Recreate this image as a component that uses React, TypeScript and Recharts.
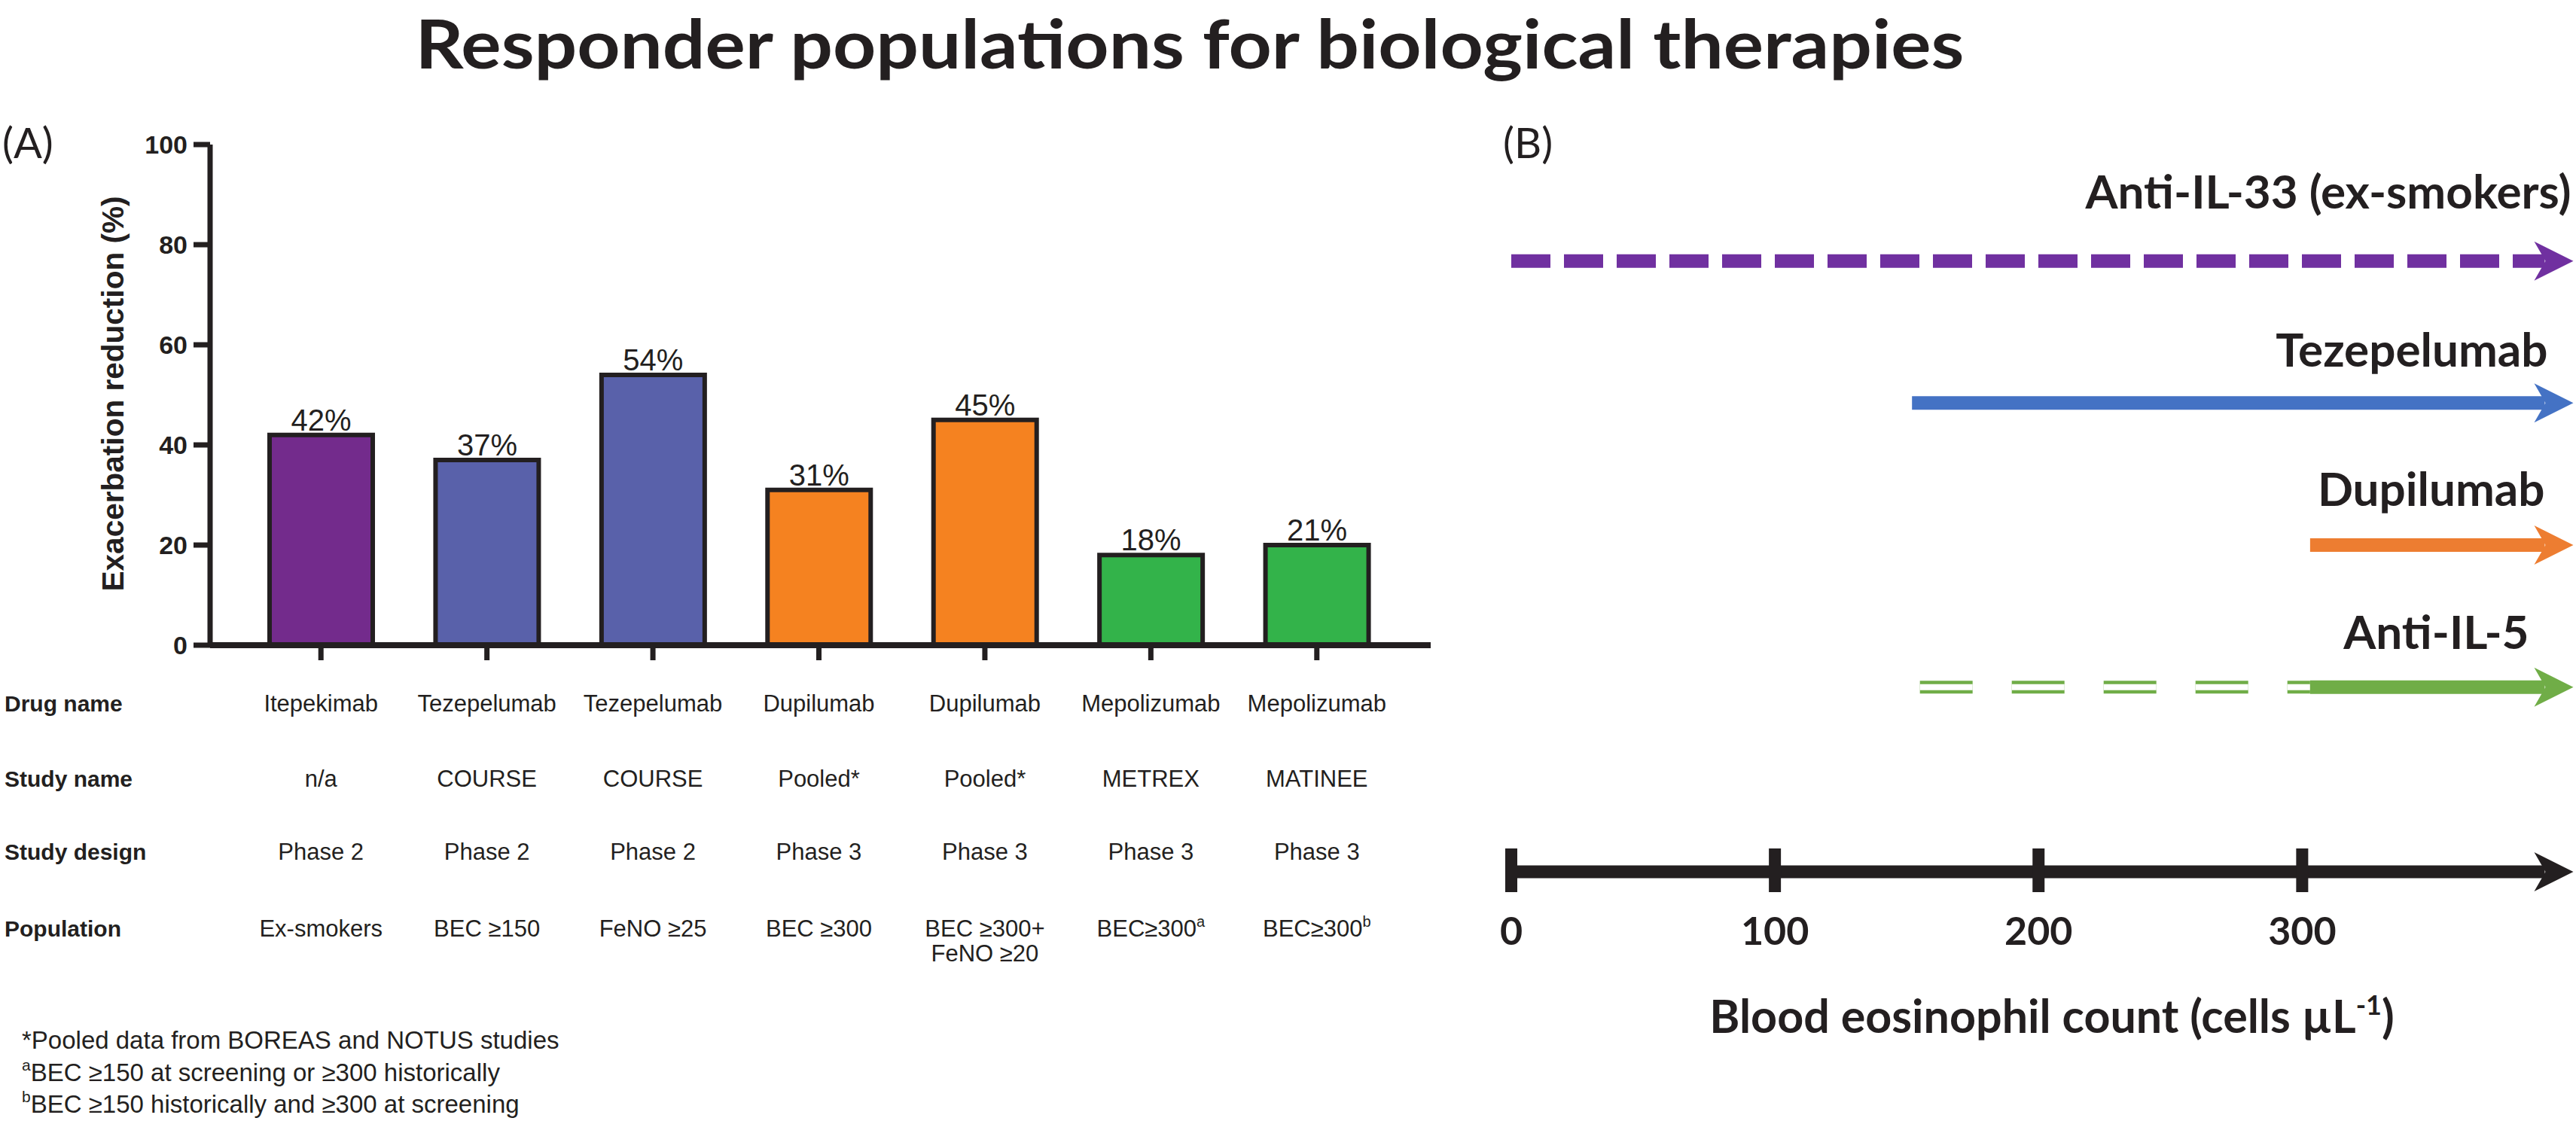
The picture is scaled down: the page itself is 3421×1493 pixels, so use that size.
import React from 'react'
import { BarChart, Bar, XAxis, YAxis, Cell, LabelList, ComposedChart, Line } from 'recharts'

// ---- Panel A data ----
const drugNames = ['Itepekimab', 'Tezepelumab', 'Tezepelumab', 'Dupilumab', 'Dupilumab', 'Mepolizumab', 'Mepolizumab']
const studyNames = ['n/a', 'COURSE', 'COURSE', 'Pooled*', 'Pooled*', 'METREX', 'MATINEE']
const studyDesigns = ['Phase 2', 'Phase 2', 'Phase 2', 'Phase 3', 'Phase 3', 'Phase 3', 'Phase 3']
const populations = ['Ex-smokers', 'BEC ≥150', 'FeNO ≥25', 'BEC ≥300', 'BEC ≥300+\nFeNO ≥20', 'BEC≥300', 'BEC≥300']
const populationSup = ['', '', '', '', '', 'a', 'b']
const reductions = [42, 37, 54, 31, 45, 18, 20]
const reductionLabels = ['42%', '37%', '54%', '31%', '45%', '18%', '21%']
const yTicks = [0, 20, 40, 60, 80, 100]
const rowHeaders = ['Drug name', 'Study name', 'Study design', 'Population']

// ---- Panel B data ----
const arrowNames = ['Anti-IL-33 (ex-smokers)', 'Tezepelumab', 'Dupilumab', 'Anti-IL-5']
const arrowRows = [1, 2, 3, 4]
const arrowStarts = [0, 152, 303, 303]
const arrowDashedFrom = [null, null, null, 155] // double-dashed lead-in (Anti-IL-5)
const SHAFT_END = 392
const AXIS_ROW = 5.3
const axisTicks = [0, 100, 200, 300]

const BAR_COLORS = ['#732b8c', '#5961aa', '#5961aa', '#f58220', '#f58220', '#33b34a', '#33b34a']
const ARROW_STYLE = [
  { color: '#7030a0', dash: '52 18', lift: 70, dx: -3 },
  { color: '#4472c4', dash: undefined, lift: 48, dx: -34 },
  { color: '#ed7d31', dash: undefined, lift: 52, dx: -38 },
  { color: '#70ad47', dash: undefined, lift: 51, dx: -59 },
]
const INK = '#231f20'
const ARIAL = '"Liberation Sans", Arial, sans-serif'
const CALIBRI = 'Lato, "Open Sans", sans-serif'

const barData = drugNames.map((d, i) => ({ col: i, drug: d, value: reductions[i], label: reductionLabels[i] }))

function TableTick({ x, y, payload }: any) {
  const i = Number(payload.value)
  const lines = populations[i].split('\n')
  const t = { fontFamily: ARIAL, fontSize: 31, fill: INK }
  return (
    <g>
      <text x={x} y={y + 68} textAnchor="middle" style={t}>{drugNames[i]}</text>
      <text x={x} y={y + 168} textAnchor="middle" style={t}>{studyNames[i]}</text>
      <text x={x} y={y + 265} textAnchor="middle" style={t}>{studyDesigns[i]}</text>
      {lines.map((ln, k) => (
        <text key={k} x={x} y={y + 367 + k * 33} textAnchor="middle" style={t}>
          {ln}
          {populationSup[i] && k === lines.length - 1 ? (
            <tspan dy={-13} fontSize={20}>{populationSup[i]}</tspan>
          ) : null}
        </text>
      ))}
    </g>
  )
}

function AxisTick({ x, y, payload }: any) {
  return (
    <g>
      <rect x={x - 8} y={y - 31} width={16} height={58} fill={INK} />
      <text x={x} y={y + 97} textAnchor="middle"
        style={{ fontFamily: CALIBRI, fontWeight: 700, fontSize: 52, fill: INK }}>
        {payload.value}
      </text>
    </g>
  )
}

function makeHead(color: string, label?: string, lift = 50, dx = 0) {
  return (props: any) => {
    const { cx, cy, index } = props
    if (index !== 1 || cx == null) return <g key={`n${index}`} />
    const tip = cx + 38
    return (
      <g key={`h${index}`}>
        <polygon points={`${tip},${cy} ${cx - 14},${cy - 26} ${cx + 1},${cy} ${cx - 14},${cy + 26}`} fill={color} />
        {label ? (
          <text x={tip + dx} y={cy - lift} textAnchor="end"
            style={{ fontFamily: CALIBRI, fontWeight: 700, fontSize: 62, fill: INK }}>
            {label}
          </text>
        ) : null}
      </g>
    )
  }
}

export default function App() {
  return (
    <div style={{ position: 'absolute', left: 0, top: 0, width: 3421, height: 1493, background: '#fff', overflow: 'hidden', fontFamily: ARIAL }}>
      {/* Panel A */}
      <div style={{ position: 'absolute', left: 0, top: 0 }}>
        <BarChart width={1960} height={1493} data={barData} margin={{ top: 192, right: 60, bottom: 606, left: 179 }}>
          <XAxis dataKey="col" type="category" height={30} padding={{ left: 37, right: 41 }}
            axisLine={{ stroke: INK, strokeWidth: 8 }} tickLine={{ stroke: INK, strokeWidth: 7 }}
            tickSize={20} tickMargin={0} interval={0} tick={<TableTick />} />
          <YAxis type="number" domain={[0, 100]} ticks={yTicks} width={100}
            axisLine={{ stroke: INK, strokeWidth: 7 }} tickLine={{ stroke: INK, strokeWidth: 7 }}
            tickSize={22} tickMargin={8}
            tick={{ fontFamily: ARIAL, fontSize: 34, fontWeight: 700, fill: INK }} />
          <Bar dataKey="value" barSize={137} stroke={INK} strokeWidth={6} isAnimationActive={false}>
            {barData.map((_, i) => <Cell key={i} fill={BAR_COLORS[i]} />)}
            <LabelList dataKey="label" position="top" offset={6}
              style={{ fontFamily: ARIAL, fontSize: 40, fill: INK }} />
          </Bar>
        </BarChart>
      </div>

      {/* Panel B */}
      <div style={{ position: 'absolute', left: 1960, top: 0 }}>
        <ComposedChart width={1461} height={1493} margin={{ top: 158, right: 3, bottom: 334, left: 47 }}>
          <XAxis type="number" dataKey="x" domain={[0, 403]} ticks={axisTicks} interval={0}
            axisLine={false} tickLine={false} tickSize={0} tickMargin={0} height={1}
            tick={<AxisTick />} />
          <YAxis type="number" domain={[0, AXIS_ROW]} reversed hide />

          {arrowDashedFrom.map((from, i) => from == null ? null : (
            <Line key={`dg${i}`} data={[{ x: from, y: arrowRows[i] }, { x: arrowStarts[i], y: arrowRows[i] }]}
              dataKey="y" type="linear" stroke={ARROW_STYLE[i].color} strokeWidth={17}
              strokeDasharray="70 52" dot={false} activeDot={false} isAnimationActive={false} />
          ))}
          {arrowDashedFrom.map((from, i) => from == null ? null : (
            <Line key={`dw${i}`} data={[{ x: from, y: arrowRows[i] }, { x: arrowStarts[i], y: arrowRows[i] }]}
              dataKey="y" type="linear" stroke="#fff" strokeWidth={8}
              strokeDasharray="70 52" dot={false} activeDot={false} isAnimationActive={false} />
          ))}

          {arrowNames.map((name, i) => (
            <Line key={name} data={[{ x: arrowStarts[i], y: arrowRows[i] }, { x: SHAFT_END, y: arrowRows[i] }]}
              dataKey="y" type="linear" stroke={ARROW_STYLE[i].color} strokeWidth={18}
              strokeDasharray={ARROW_STYLE[i].dash}
              dot={makeHead(ARROW_STYLE[i].color, name, ARROW_STYLE[i].lift, ARROW_STYLE[i].dx)}
              activeDot={false} isAnimationActive={false} />
          ))}

          <Line data={[{ x: 0, y: AXIS_ROW }, { x: SHAFT_END, y: AXIS_ROW }]} dataKey="y" type="linear"
            stroke={INK} strokeWidth={17} dot={makeHead(INK)} activeDot={false} isAnimationActive={false} />
        </ComposedChart>
      </div>

      {/* static text */}
      <svg width={3421} height={1493} style={{ position: 'absolute', left: 0, top: 0, pointerEvents: 'none' }}>
        <text x={1580} y={91} textAnchor="middle" textLength={2057} lengthAdjust="spacingAndGlyphs"
          style={{ fontFamily: CALIBRI, fontWeight: 700, fontSize: 90, fill: INK }}>
          Responder populations for biological therapies
        </text>
        <text x={3} y={210} style={{ fontFamily: CALIBRI, fontSize: 56, fill: INK }}>(A)</text>
        <text x={1996} y={210} style={{ fontFamily: CALIBRI, fontSize: 56, fill: INK }}>(B)</text>
        <text transform="translate(164,523) rotate(-90)" textAnchor="middle" textLength={525} lengthAdjust="spacingAndGlyphs"
          style={{ fontFamily: ARIAL, fontWeight: 700, fontSize: 40, fill: INK }}>
          Exacerbation reduction (%)
        </text>
        {rowHeaders.map((h, i) => (
          <text key={h} x={6} y={[945, 1045, 1142, 1244][i]}
            style={{ fontFamily: ARIAL, fontWeight: 700, fontSize: 30, fill: INK }}>{h}</text>
        ))}
        <g style={{ fontFamily: ARIAL, fontSize: 33, fill: INK }}>
          <text x={29} y={1393}>*Pooled data from BOREAS and NOTUS studies</text>
          <text x={29} y={1436}><tspan fontSize={21} dy={-14}>a</tspan><tspan dy={14}>BEC ≥150 at screening or ≥300 historically</tspan></text>
          <text x={29} y={1478}><tspan fontSize={21} dy={-14}>b</tspan><tspan dy={14}>BEC ≥150 historically and ≥300 at screening</tspan></text>
        </g>
        <text x={2725} y={1372} textAnchor="middle"
          style={{ fontFamily: CALIBRI, fontWeight: 700, fontSize: 61, fill: INK }}>
          Blood eosinophil count (cells µL<tspan fontSize={36} dy={-24}>-1</tspan><tspan dy={24}>)</tspan>
        </text>
      </svg>
    </div>
  )
}
